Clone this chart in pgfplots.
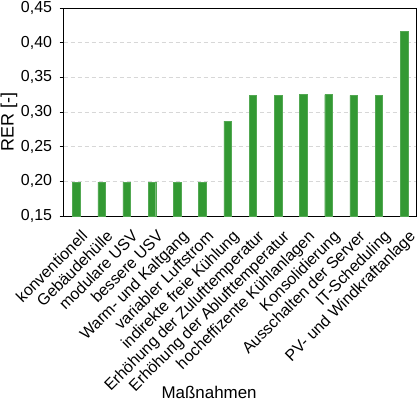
\documentclass[border=0pt]{standalone}
\usepackage{fontspec}
\setmainfont{Liberation Sans}
\usepackage{pgfplots}
\pgfplotsset{compat=1.18}
\definecolor{bargreen}{RGB}{51,153,51}
\definecolor{gridgray}{RGB}{215,215,215}
\newcommand{\bigf}{\fontsize{16}{19}\selectfont}
\newcommand{\xf}{\fontsize{16}{19}\selectfont}
\newcommand{\lf}{\fontsize{17}{20}\selectfont}
\newcommand{\yf}{\fontsize{18}{21}\selectfont}
\begin{document}
\begin{tikzpicture}
\begin{axis}[
  scale only axis, width=353bp, height=208bp,
  ymin=0.15, ymax=0.45, xmin=-0.5, xmax=13.5,
  ytick={0.15,0.2,0.25,0.3,0.35,0.4,0.45},
  yticklabel style={/pgf/number format/.cd, use comma, fixed, fixed zerofill, precision=2, assume math mode=true, /tikz/.cd, inner sep=0pt, anchor=east, xshift=-7.5bp, font=\bigf},
  xtick={0,...,13},
  xticklabels={konventionell,Gebäudehülle,modulare USV,bessere USV,Warm- und Kaltgang,variabler Luftstrom,indirekte freie Kühlung,Erhöhung der Zulufttemperatur,Erhöhung der Ablufttemperatur,hocheffizente Kühlanlagen,Konsolidierung,Ausschalten der Server,IT-Scheduling,PV- und Windkraftanlage},
  x tick style={draw=none},
  ytick pos=left,
  tick align=outside,
  major tick length=4bp,
  tick style={black, line width=0.8pt},
  ymajorgrids,
  grid style={gridgray, dash pattern=on 4bp off 3bp, line width=0.6pt},
  axis line style={black, line width=0.9pt},
  xticklabel style={font=\xf, inner sep=0pt, anchor=north east, xshift=4bp, yshift=-9bp, rotate=45},
  ylabel={RER [-]},
  ylabel style={at={(axis description cs:0,0.5)}, anchor=south, inner sep=0pt, yshift=46.2bp, xshift=-10bp, font=\yf},
  xlabel={Maßnahmen},
  xlabel style={at={(axis description cs:0.412,0)}, anchor=base, inner sep=0pt, yshift=-182bp, font=\lf},
  ybar, bar width=7.5bp,
]
\addplot[fill=bargreen, draw=bargreen!85!white, line width=0.4pt] coordinates {
(0,0.199) (1,0.199) (2,0.199) (3,0.199) (4,0.199) (5,0.199) (6,0.287) (7,0.324) (8,0.324) (9,0.325) (10,0.325) (11,0.324) (12,0.324) (13,0.416)
};
\end{axis}
\pgfresetboundingbox
\path[use as bounding box] (-63.7bp,-184bp) rectangle (354.3bp,216bp);
\end{tikzpicture}
\end{document}
